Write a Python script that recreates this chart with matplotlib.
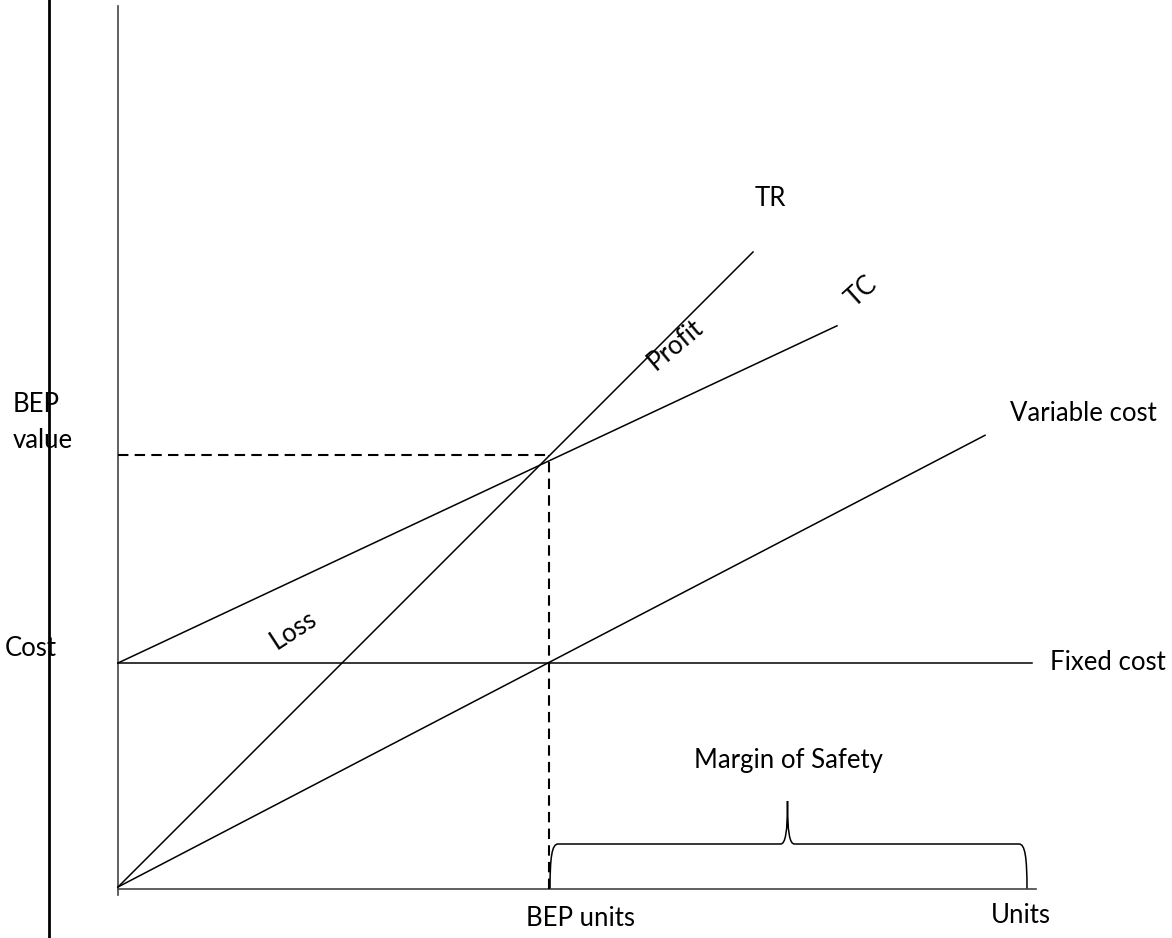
import numpy as np
import matplotlib.pyplot as plt
from matplotlib.path import Path
from matplotlib.patches import PathPatch

plt.rcParams['font.family'] = ['Lato', 'DejaVu Sans']

# Break-even model (arbitrary units)
fixed_cost = 224
price = 1.0            # TR slope
tc_slope = 0.469       # TC slope
vc_slope = 0.521       # variable cost line slope
units_max = 914
tr_end, tc_end, vc_end = 635, 719, 867
bep_units = 431
bep_value = 432
mos_start, mos_end = 432, 909
mos_height, mos_tip = 43, 86

q_tr = np.array([0, tr_end])
q_tc = np.array([0, tc_end])
q_vc = np.array([0, vc_end])

fig = plt.figure(figsize=(11.72, 9.38), dpi=100)
ax = fig.add_axes([0, 0, 1, 1])
ax.set_xlim(-118, 1054)
ax.set_ylim(-51, 887)
ax.axis('off')

# axes of the sketch
ax.plot([0, 0], [-8, 881], color='#444444', lw=1.2)
ax.plot([0, units_max + 4], [-2, -2], color='#444444', lw=1.2)
ax.plot([-69, -69], [-51, 887], color='black', lw=2.0)

# lines
ax.plot(q_tr, price * q_tr, color='black', lw=1.1)
ax.plot(q_tc, fixed_cost + tc_slope * q_tc, color='black', lw=1.1)
ax.plot(q_vc, vc_slope * q_vc, color='black', lw=1.1)
ax.plot([0, units_max], [fixed_cost, fixed_cost], color='black', lw=1.1)

# break-even guides
ax.plot([0, bep_units], [bep_value, bep_value], color='black', lw=1.5, ls=(0, (5, 3)))
ax.plot([bep_units, bep_units], [-2, bep_value], color='black', lw=1.5, ls=(0, (5, 3)))

# margin of safety brace
xc = (mos_start + mos_end) / 2 - 1
verts = [
    (mos_start, -2),
    (mos_start, 30), (mos_start + 2, mos_height), (mos_start + 8, mos_height),
    (xc - 7, mos_height),
    (xc - 2, mos_height), (xc, 55), (xc, mos_tip),
    (xc, 55), (xc + 2, mos_height), (xc + 7, mos_height),
    (mos_end - 8, mos_height),
    (mos_end - 2, mos_height), (mos_end, 30), (mos_end, -2),
]
codes = [Path.MOVETO,
         Path.CURVE4, Path.CURVE4, Path.CURVE4,
         Path.LINETO,
         Path.CURVE4, Path.CURVE4, Path.CURVE4,
         Path.CURVE4, Path.CURVE4, Path.CURVE4,
         Path.LINETO,
         Path.CURVE4, Path.CURVE4, Path.CURVE4]
ax.add_patch(PathPatch(Path(verts, codes), fill=False, color='black', lw=1.1))

fs = 18.5
ax.text(652, 689, 'TR', fontsize=fs, ha='center', va='center')
ax.text(744, 595, 'TC', fontsize=fs, ha='center', va='center', rotation=42)
ax.text(557, 542, 'Profit', fontsize=fs, ha='center', va='center', rotation=40)
ax.text(176, 257, 'Loss', fontsize=fs, ha='center', va='center', rotation=33)
ax.text(892, 474, 'Variable cost', fontsize=fs, ha='left', va='center')
ax.text(932, 225, 'Fixed cost', fontsize=fs, ha='left', va='center')
ax.text(670, 127, 'Margin of Safety', fontsize=fs, ha='center', va='center')
ax.text(462, -31, 'BEP units', fontsize=fs, ha='center', va='center')
ax.text(903, -28, 'Units', fontsize=fs, ha='center', va='center')
ax.text(-105, 483, 'BEP', fontsize=fs, ha='left', va='center')
ax.text(-105, 447, 'value', fontsize=fs, ha='left', va='center')
ax.text(-113, 239, 'Cost', fontsize=fs, ha='left', va='center')

fig.savefig('out.png', dpi=100)
